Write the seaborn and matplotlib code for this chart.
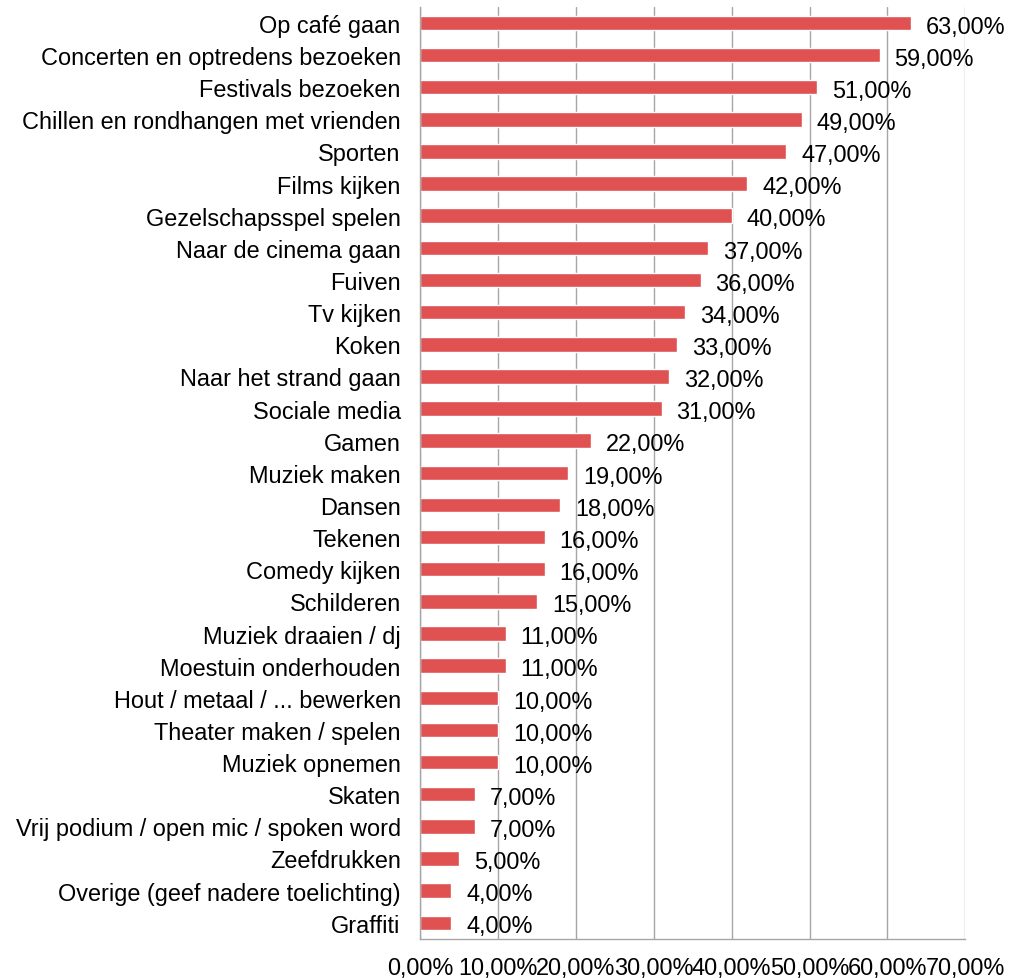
import numpy as np
import pandas as pd
import matplotlib
matplotlib.use("Agg")
import matplotlib.pyplot as plt
import seaborn as sns
from matplotlib.ticker import FixedLocator, FuncFormatter

activities = [
    "Op café gaan", "Concerten en optredens bezoeken", "Festivals bezoeken",
    "Chillen en rondhangen met vrienden", "Sporten", "Films kijken",
    "Gezelschapsspel spelen", "Naar de cinema gaan", "Fuiven", "Tv kijken",
    "Koken", "Naar het strand gaan", "Sociale media", "Gamen", "Muziek maken",
    "Dansen", "Tekenen", "Comedy kijken", "Schilderen", "Muziek draaien / dj",
    "Moestuin onderhouden", "Hout / metaal / ... bewerken",
    "Theater maken / spelen", "Muziek opnemen", "Skaten",
    "Vrij podium / open mic / spoken word", "Zeefdrukken",
    "Overige (geef nadere toelichting)", "Graffiti",
]
percentages = [63, 59, 51, 49, 47, 42, 40, 37, 36, 34, 33, 32, 31, 22, 19,
               18, 16, 16, 15, 11, 11, 10, 10, 10, 7, 7, 5, 4, 4]
x_ticks = [0, 10, 20, 30, 40, 50, 60, 70]

df = pd.DataFrame({"activiteit": activities, "pct": percentages})

sns.set_style("white")
plt.rcParams["font.family"] = ["Liberation Sans", "DejaVu Sans"]
fs = 16.9


def pct_label(v, pos=None):
    return f"{v:.2f}%".replace(".", ",")


fig = plt.figure(figsize=(10.21, 9.79), dpi=100)
ax = fig.add_axes([0.4115, 0.04, 0.534, 0.952])

sns.barplot(data=df, y="activiteit", x="pct", orient="h", color="#E05252",
            saturation=1, width=0.45, ax=ax)

ax.set_xlim(0, 70)
ax.set_ylim(len(activities) - 0.5, -0.5)
ax.xaxis.set_major_locator(FixedLocator(x_ticks))
ax.xaxis.set_major_formatter(FuncFormatter(pct_label))
ax.grid(axis="x", color="#A6A6A6", linewidth=1)
ax.set_axisbelow(True)
ax.set_xlabel("")
ax.set_ylabel("")

for s in ["top", "right"]:
    ax.spines[s].set_visible(False)
for s in ["left", "bottom"]:
    ax.spines[s].set_color("#A6A6A6")
    ax.spines[s].set_linewidth(1)

ax.tick_params(axis="x", length=6, color="#A6A6A6", pad=6, labelsize=fs,
               labelcolor="black")
ax.tick_params(axis="y", which="major", length=0, pad=14, labelsize=fs,
               labelcolor="black")
ax.yaxis.set_minor_locator(FixedLocator(np.arange(-0.5, len(activities), 1)))
ax.tick_params(axis="y", which="minor", length=6, color="#A6A6A6")

for i, v in enumerate(percentages):
    ax.text(v + 1.9, i + 0.1, pct_label(v), va="center",
            ha="left", fontsize=fs, color="black")

fig.savefig("out.png", dpi=100)
